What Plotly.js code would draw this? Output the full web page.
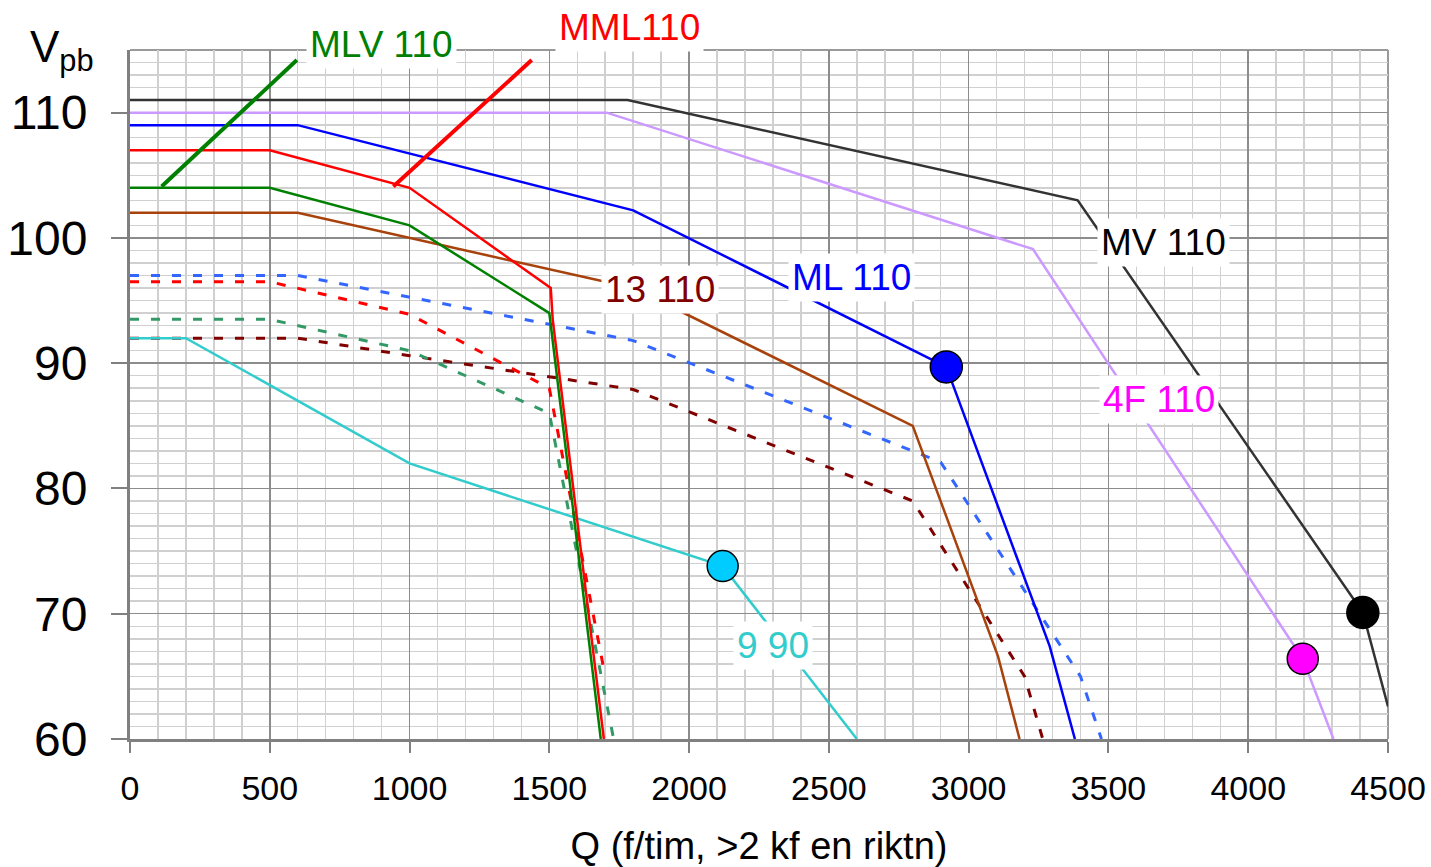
<!DOCTYPE html>
<html>
<head>
<meta charset="utf-8">
<script src="https://cdn.plot.ly/plotly-3.0.1.min.js"></script>
<style>
  html, body { margin: 0; padding: 0; background: #fff; }
  #chart { width: 1431px; height: 867px; }
</style>
</head>
<body>
<div id="chart"></div>
<script>
// ---- Data ----
// Solid curves: Q (f/tim) vs Vpb
const mv110_q  = [0, 1780, 3390, 4410, 4500];
const mv110_v  = [111, 111, 103, 70.1, 62.6];
const f4_110_q = [0, 1705, 3230, 4195, 4305];
const f4_110_v = [110, 110, 99.1, 66.4, 60];
const ml110_q  = [0, 600, 1800, 2920, 3290, 3380];
const ml110_v  = [109, 109, 102.2, 89.7, 67.4, 60];
const mml110_q = [0, 500, 1000, 1505, 1512, 1695];
const mml110_v = [107, 107, 104, 96, 93.5, 60];
const mlv110_q = [0, 500, 1000, 1500, 1684];
const mlv110_v = [104, 104, 101, 94, 60];
const s13_110_q = [0, 600, 1800, 2800, 3105, 3182];
const s13_110_v = [102, 102, 96, 85, 66.6, 60];
const s9_90_q  = [0, 200, 1000, 2120, 2600];
const s9_90_v  = [92, 92, 82, 73.8, 60];

// Dashed curves
const ml110d_q  = [0, 600, 1800, 2900, 3400, 3475];
const ml110d_v  = [97, 97, 91.8, 82.1, 65, 60];
const mml110d_q = [0, 500, 1000, 1500, 1700];
const mml110d_v = [96.5, 96.5, 93.9, 88, 65];
const mlv110d_q = [0, 500, 1000, 1500, 1730];
const mlv110d_v = [93.5, 93.5, 91, 86, 60];
const s13_110d_q = [0, 600, 1000, 1800, 2800, 3200, 3265];
const s13_110d_v = [92, 92, 90.6, 87.9, 79, 65, 60];

// Leader lines of the labels
const mlvLead_q = [113, 597];
const mlvLead_v = [104.1, 114.2];
const mmlLead_q = [942, 1437];
const mmlLead_v = [104.1, 114.2];

// Marked operating points
const dot9_q  = [2120];  const dot9_v  = [73.8];
const dotML_q = [2920];  const dotML_v = [89.7];
const dot4F_q = [4195];  const dot4F_v = [66.4];
const dotMV_q = [4410];  const dotMV_v = [70.1];

// Labels
const seriesLabels = ['MLV 110', 'MML110', '13 110', 'ML 110', 'MV 110', '4F 110', '9 90'];
const xTitle = 'Q (f/tim, >2 kf en riktn)';

// ---- Drawing ----
const FONT = 'Arial, "Liberation Sans", sans-serif';

function line(q, v, color, width, dash) {
  return { x: q, y: v, type: 'scatter', mode: 'lines', hoverinfo: 'skip',
    line: { color: color, width: width, dash: dash || 'solid' } };
}
function dot(q, v, color, size) {
  return { x: q, y: v, type: 'scatter', mode: 'markers', hoverinfo: 'skip',
    marker: { color: color, size: size, line: { color: '#000', width: 1.5 } } };
}
const DASH = '9px,12px';

const traces = [
  line(ml110d_q, ml110d_v, '#3366ff', 3, DASH),
  line(s13_110d_q, s13_110d_v, '#800000', 3, DASH),
  line(mlv110d_q, mlv110d_v, '#339966', 3, DASH),
  line(mml110d_q, mml110d_v, '#ff0000', 3, DASH),
  line(mv110_q, mv110_v, '#333333', 2.5),
  line(f4_110_q, f4_110_v, '#cc99ff', 2.5),
  line(ml110_q, ml110_v, '#0000ff', 2.5),
  line(s13_110_q, s13_110_v, '#a8420c', 2.5),
  line(s9_90_q, s9_90_v, '#33cccc', 2.5),
  line(mml110_q, mml110_v, '#ff0000', 2.5),
  line(mlv110_q, mlv110_v, '#008000', 2.5),
  line(mlvLead_q, mlvLead_v, '#008000', 4),
  line(mmlLead_q, mmlLead_v, '#ff0000', 4),
  dot(dot9_q, dot9_v, '#00ccff', 31),
  dot(dotML_q, dotML_v, '#0000ff', 32),
  dot(dot4F_q, dot4F_v, '#ff00ff', 31),
  dot(dotMV_q, dotMV_v, '#000000', 32)
];

// label placement: x in data units, y in paper units for labels above the plot
const labelStyle = [
  { x: 898,  y: 1.0087, yref: 'paper', color: '#008000' },
  { x: 1785, y: 1.0327, yref: 'paper', color: '#ff0000' },
  { x: 1896, y: 95.9,   yref: 'y', color: '#800000' },
  { x: 2580, y: 96.87,  yref: 'y', color: '#0000ff' },
  { x: 3696, y: 99.6,   yref: 'y', color: '#000000' },
  { x: 3682, y: 87.14,  yref: 'y', color: '#ff00ff' },
  { x: 2299, y: 67.44,  yref: 'y', color: '#33cccc' }
];
const annotations = seriesLabels.map((t, i) => ({
  text: t, x: labelStyle[i].x, y: labelStyle[i].y, xref: 'x', yref: labelStyle[i].yref,
  xanchor: 'center', yanchor: 'middle',
  showarrow: false, bgcolor: '#ffffff', borderpad: 3,
  font: { family: FONT, size: 37, color: labelStyle[i].color }
}));
annotations.push({
  text: 'V<sub>pb</sub>', xref: 'paper', yref: 'paper', x: -0.054, y: 1.0,
  xanchor: 'center', yanchor: 'middle', showarrow: false,
  font: { family: FONT, size: 44, color: '#000' }
});

const layout = {
  width: 1431, height: 867,
  margin: { l: 130, r: 43, t: 50, b: 128, pad: 0 },
  paper_bgcolor: '#ffffff', plot_bgcolor: '#ffffff',
  showlegend: false,
  font: { family: FONT, color: '#000' },
  xaxis: {
    range: [0, 4500], tick0: 0, dtick: 500, zeroline: false,
    showgrid: true, gridcolor: '#8c8c8c', gridwidth: 1.5,
    minor: { dtick: 100, showgrid: true, gridcolor: '#d0d0d0', gridwidth: 1.5, ticks: '' },
    ticks: 'outside', ticklen: 11, tickwidth: 2, tickcolor: '#808080',
    showline: true, linecolor: '#808080', linewidth: 3,
    tickfont: { family: FONT, size: 34, color: '#000' },
    ticklabelstandoff: 6,
    title: { text: xTitle, font: { family: FONT, size: 38, color: '#000' }, standoff: 28 },
    fixedrange: true
  },
  yaxis: {
    range: [60, 115], tick0: 60, dtick: 10, zeroline: false,
    showgrid: true, gridcolor: '#8c8c8c', gridwidth: 1.5,
    minor: { dtick: 1, showgrid: true, gridcolor: '#d0d0d0', gridwidth: 1.5, ticks: '' },
    ticks: 'outside', ticklen: 16, tickwidth: 2, tickcolor: '#808080',
    showline: true, linecolor: '#808080', linewidth: 3,
    tickfont: { family: FONT, size: 48, color: '#000' },
    ticklabelstandoff: 14,
    fixedrange: true
  },
  shapes: [
    { type: 'line', xref: 'paper', yref: 'paper', x0: 0, x1: 1, y0: 1, y1: 1, layer: 'below',
      line: { color: '#9a9a9a', width: 2 } },
    { type: 'line', xref: 'paper', yref: 'paper', x0: 1, x1: 1, y0: 0, y1: 1, layer: 'below',
      line: { color: '#9a9a9a', width: 2 } }
  ],
  annotations: annotations
};

Plotly.newPlot('chart', traces, layout, { staticPlot: true, displayModeBar: false });
</script>
</body>
</html>
